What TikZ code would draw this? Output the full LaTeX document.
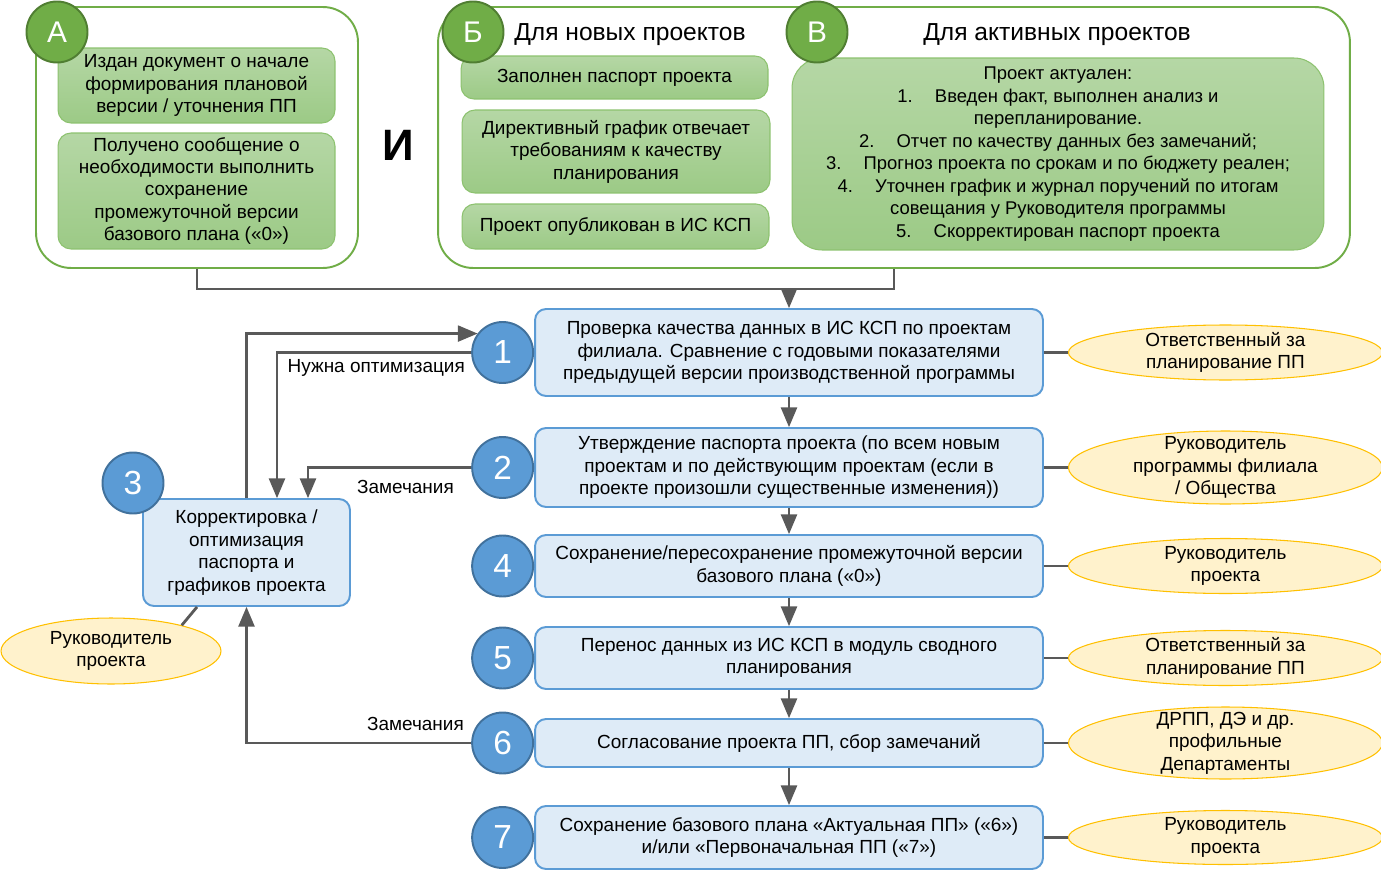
\documentclass[tikz,border=0pt]{standalone}
\usepackage{fontspec}
\setmainfont{Liberation Sans}
\usetikzlibrary{arrows,positioning,shapes.geometric}

\definecolor{grn}{HTML}{70AD47}
\definecolor{grndark}{HTML}{507E32}
\definecolor{grntop}{HTML}{B5D7A5}
\definecolor{grnbot}{HTML}{9CCA86}
\definecolor{grnline}{HTML}{8DC26F}
\definecolor{blu}{HTML}{5B9BD5}
\definecolor{bludark}{HTML}{41719C}
\definecolor{blufill}{HTML}{DEEBF7}
\definecolor{ylw}{HTML}{FFF2CC}
\definecolor{ylwline}{HTML}{FFC000}
\definecolor{gry}{HTML}{595959}

\begin{document}
\begin{tikzpicture}[x=0.02cm,y=-0.02cm,>=triangle 45,font=\fontsize{10.8}{12.8}\selectfont]
  \tikzstyle{grpbox}=[draw=grn,line width=1.1pt,rounded corners=0.7cm,fill=white,minimum height=5.22cm]
  \tikzstyle{condbox}=[draw=grnline,line width=0.6pt,rounded corners=0.26cm,top color=grntop,bottom color=grnbot,align=center,inner sep=0pt]
  \tikzstyle{letter}=[circle,draw=grndark,line width=1.1pt,fill=grn,text=white,minimum size=1.22cm,inner sep=0pt,font=\fontsize{17}{20}\selectfont]
  \tikzstyle{stepbox}=[draw=blu,line width=1.1pt,rounded corners=0.22cm,fill=blufill,align=center,minimum width=10.16cm,inner sep=0pt]
  \tikzstyle{numcirc}=[circle,draw=bludark,line width=1.1pt,fill=blu,text=white,minimum size=1.22cm,inner sep=0pt,font=\fontsize{19}{22}\selectfont]
  \tikzstyle{rolebox}=[ellipse,draw=ylwline,line width=0.6pt,fill=ylw,align=center,inner sep=-1cm,minimum width=6.28cm]
  \tikzstyle{arr}=[->,draw=gry,line width=1.6pt]
  \tikzstyle{link}=[draw=gry,line width=1.6pt]
  \tikzstyle{lbl}=[inner sep=0pt]

  \useasboundingbox (0,0) rectangle (1381,878);

  % conditions
  \node[grpbox,minimum width=6.44cm] (ga) at (197,137.5) {};
  \node[grpbox,minimum width=18.24cm] (gb) at (894,137.5) {};
  \node[condbox,minimum width=5.54cm,minimum height=1.5cm] (a1) at (196.5,85.5)
    {Издан документ о начале\\формирования плановой\\версии / уточнения ПП};
  \node[condbox,minimum width=5.54cm,minimum height=2.32cm] (a2) at (196.5,191)
    {Получено сообщение о\\необходимости выполнить\\сохранение\\промежуточной версии\\базового плана («0»)};
  \node[font=\fontsize{25}{28}\selectfont\bfseries] (and) at (398,145) {И};
  \node[condbox,minimum width=6.14cm,minimum height=0.86cm] (b1) at (614.5,77.5) {Заполнен паспорт проекта};
  \node[condbox,minimum width=6.16cm,minimum height=1.66cm] (b2) at (616,151.5)
    {Директивный график отвечает\\требованиям к качеству\\планирования};
  \node[condbox,minimum width=6.14cm,minimum height=0.9cm] (b3) at (615.5,226.5) {Проект опубликован в ИС КСП};
  \node[condbox,rounded corners=0.6cm,minimum width=10.64cm,minimum height=3.84cm,font=\fontsize{10.5}{12.8}\selectfont] (v1) at (1058,154)
    {Проект актуален:\\
     1.\hspace{1.2em}Введен факт, выполнен анализ и\\
     перепланирование.\\
     2.\hspace{1.2em}Отчет по качеству данных без замечаний;\\
     3.\hspace{1.2em}Прогноз проекта по срокам и по бюджету реален;\\
     4.\hspace{1.2em}Уточнен график и журнал поручений по итогам\\
     совещания у Руководителя программы\\
     5.\hspace{1.2em}Скорректирован паспорт проекта};
  \node[font=\fontsize{14}{16}\selectfont] (tb) at (630,35) {Для новых проектов};
  \node[font=\fontsize{14}{16}\selectfont] (tv) at (1057,35) {Для активных проектов};
  \node[letter] (ka) at (57,32) {А};
  \node[letter] (kb) at (473,32) {Б};
  \node[letter] (kv) at (817,32) {В};

  % steps
  \node[stepbox,minimum height=1.74cm] (s1) at (789,352.5)
    {Проверка качества данных в ИС КСП по проектам\\филиала. Сравнение с годовыми показателями\\предыдущей версии производственной программы};
  \node[stepbox,minimum height=1.58cm] (s2) at (789,467.5)
    {Утверждение паспорта проекта (по всем новым\\проектам и по действующим проектам (если в\\проекте произошли существенные изменения))};
  \node[stepbox,minimum height=1.24cm] (s4) at (789,566)
    {Сохранение/пересохранение промежуточной версии\\базового плана («0»)};
  \node[stepbox,minimum height=1.24cm] (s5) at (789,658)
    {Перенос данных из ИС КСП в модуль сводного\\планирования};
  \node[stepbox,minimum height=0.96cm] (s6) at (789,743) {Согласование проекта ПП, сбор замечаний};
  \node[stepbox,minimum height=1.26cm] (s7) at (789,837.5)
    {Сохранение базового плана «Актуальная ПП» («6»)\\и/или «Первоначальная ПП («7»)};
  \node[stepbox,minimum width=4.14cm,minimum height=2.14cm] (k3) at (246.5,552.5)
    {Корректировка /\\оптимизация\\паспорта и\\графиков проекта};

  \node[numcirc] (n1) [left=0cm of s1] {1};
  \node[numcirc] (n2) [left=0cm of s2] {2};
  \node[numcirc] (n4) [left=0cm of s4] {4};
  \node[numcirc] (n5) [left=0cm of s5] {5};
  \node[numcirc] (n6) [left=0cm of s6] {6};
  \node[numcirc] (n7) [left=0cm of s7] {7};
  \node[numcirc] (n3) at (133,483) {3};

  % roles
  \node[rolebox,minimum height=1.1cm] (r1) [right=0.48cm of s1] {Ответственный за\\планирование ПП};
  \node[rolebox,minimum height=1.46cm] (r2) [right=0.48cm of s2] {Руководитель\\программы филиала\\/ Общества};
  \node[rolebox,minimum height=1.1cm] (r4) [right=0.48cm of s4] {Руководитель\\проекта};
  \node[rolebox,minimum height=1.1cm] (r5) [right=0.48cm of s5] {Ответственный за\\планирование ПП};
  \node[rolebox,minimum height=1.44cm] (r6) [right=0.48cm of s6] {ДРПП, ДЭ и др.\\профильные\\Департаменты};
  \node[rolebox,minimum height=1.08cm] (r7) [right=0.48cm of s7] {Руководитель\\проекта};
  \node[rolebox,minimum width=4.4cm,minimum height=1.32cm] (r0) at (111,651) {Руководитель\\проекта};

  \coordinate (j) at (789,289);
  \draw[link] (ga.south) |- (j) -| (gb.south);
  \draw[arr] (j) -- (s1);

  \path
  (s1) edge[arr] (s2)
  (s2) edge[arr] (s4)
  (s4) edge[arr] (s5)
  (s5) edge[arr] (s6)
  (s6) edge[arr] (s7)
  (s1) edge[link] (r1)
  (s2) edge[link] (r2)
  (s4) edge[link] (r4)
  (s5) edge[link] (r5)
  (s6) edge[link] (r6)
  (s7) edge[link] (r7);
  \draw[link] ([xshift=-0.99cm]k3.south) -- (r0.20);

  % feedback
  \draw[arr] (k3.north) |- (n1.143);
  \draw[arr] (n1.west) -| ([xshift=0.61cm]k3.north);
  \draw[arr] (n2.west) -| ([xshift=1.23cm]k3.north);
  \draw[arr] (n6.west) -| (k3.south);
  \node[lbl,anchor=north east] (l1) at ([xshift=-0.12cm,yshift=-0.14cm]n1.west) {Нужна оптимизация};
  \node[lbl,anchor=north east] (l2) at ([xshift=-0.34cm,yshift=-0.24cm]n2.west) {Замечания};
  \node[lbl,anchor=south east] (l6) at ([xshift=-0.14cm,yshift=0.24cm]n6.west) {Замечания};
\end{tikzpicture}
\end{document}
